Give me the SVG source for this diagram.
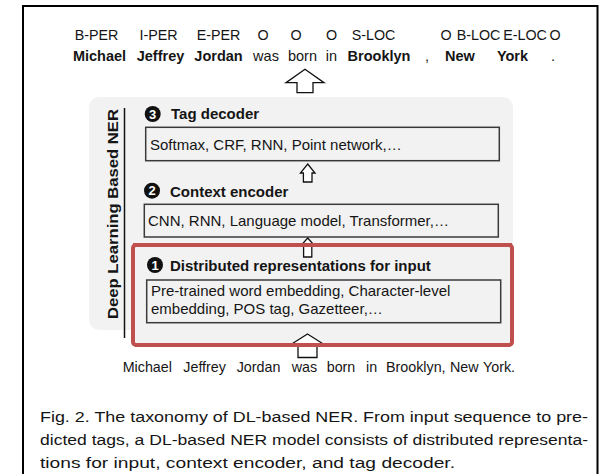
<svg xmlns="http://www.w3.org/2000/svg" width="605" height="474" viewBox="0 0 605 474">
  <style>
    text { font-family: "Liberation Sans", Arial, sans-serif; fill: #151515; }
    .tag { font-size: 14.3px; text-anchor: middle; }
    .word { font-size: 14.5px; text-anchor: middle; }
    .b { font-weight: bold; }
    .head { font-size: 15px; font-weight: bold; }
    .item { font-size: 15px; }
    .in { font-size: 14.3px; }
    .cap { font-size: 15.5px; }
    .box { fill: #f2f2f2; stroke: #3a3a3a; stroke-width: 1.5; }
    .num { fill: #111; }
    .numt { font-size: 13px; font-weight: bold; fill: #fff; text-anchor: middle; }
    .arrow { fill: #fff; stroke: #111; stroke-width: 1.3; stroke-linejoin: miter; }
  </style>

  <rect width="605" height="474" fill="#ffffff"/>
  <!-- figure frame -->
  <rect x="23" y="6" width="574.5" height="480" fill="none" stroke="#000" stroke-width="2"/>

  <!-- output tags and tagged words -->
  <g id="tags">
    <text class="tag" x="96.5" y="40">B-PER</text>
    <text class="tag" x="158.5" y="40">I-PER</text>
    <text class="tag" x="218.5" y="40">E-PER</text>
    <text class="tag" x="263" y="40">O</text>
    <text class="tag" x="296" y="40">O</text>
    <text class="tag" x="331.5" y="40">O</text>
    <text class="tag" x="373.5" y="40">S-LOC</text>
    <text class="tag" x="446" y="40">O</text>
    <text class="tag" x="478.5" y="40">B-LOC</text>
    <text class="tag" x="525" y="40">E-LOC</text>
    <text class="tag" x="555" y="40">O</text>
  </g>
  <g id="output-words">
    <text class="word b" x="99.5" y="61">Michael</text>
    <text class="word b" x="160.5" y="61">Jeffrey</text>
    <text class="word b" x="218.5" y="61">Jordan</text>
    <text class="word" x="266" y="61">was</text>
    <text class="word" x="302.5" y="61">born</text>
    <text class="word" x="331.5" y="61">in</text>
    <text class="word b" x="379" y="61">Brooklyn</text>
    <text class="word" x="427" y="61">,</text>
    <text class="word b" x="460" y="61">New</text>
    <text class="word b" x="512.5" y="61">York</text>
    <text class="word" x="553" y="61">.</text>
  </g>

  <!-- model panel -->
  <g id="panel">
    <rect x="89" y="97" width="424" height="233" rx="10" fill="#f2f2f2"/>
    <line x1="124.5" y1="108" x2="124.5" y2="338" stroke="#111" stroke-width="1.5"/>
    <text class="head" transform="translate(117.5 214) rotate(-90)" text-anchor="middle" font-size="16px" textLength="210" lengthAdjust="spacingAndGlyphs">Deep Learning Based NER</text>
  </g>

  <!-- stage 1: input representations (highlighted) -->
  <g id="input-representation">
    <rect x="133" y="245" width="379" height="100" rx="3" fill="#f2f2f2" stroke="#c0504d" stroke-width="4"/>
    <circle class="num" cx="155" cy="265" r="8"/>
    <text class="numt" x="155" y="269.6">1</text>
    <text class="head" x="170" y="271">Distributed representations for input</text>
    <rect class="box" x="146.7" y="280" width="354" height="42.7"/>
    <text class="item" x="151" y="295.5">Pre-trained word embedding, Character-level</text>
    <text class="item" x="151" y="314">embedding, POS tag, Gazetteer,…</text>
  </g>

  <!-- stage 2: context encoder -->
  <g id="context-encoder">
    <circle class="num" cx="152" cy="190.7" r="8"/>
    <text class="numt" x="152" y="195.3">2</text>
    <text class="head" x="170" y="197">Context encoder</text>
    <rect class="box" x="144.3" y="204.3" width="354" height="32.7"/>
    <text class="item" x="148" y="226">CNN, RNN, Language model, Transformer,…</text>
  </g>

  <!-- stage 3: tag decoder -->
  <g id="tag-decoder">
    <circle class="num" cx="152.7" cy="114" r="8"/>
    <text class="numt" x="152.7" y="118.6">3</text>
    <text class="head" x="171" y="119">Tag decoder</text>
    <rect class="box" x="145.7" y="127.3" width="353.6" height="33.4"/>
    <text class="item" x="150" y="149.5">Softmax, CRF, RNN, Point network,…</text>
  </g>

  <!-- input sentence -->
  <g id="input-sentence">
    <text class="in" x="122.7" y="371.5">Michael</text>
    <text class="in" x="183.3" y="371.5">Jeffrey</text>
    <text class="in" x="236.7" y="371.5">Jordan</text>
    <text class="in" x="291.7" y="371.5">was</text>
    <text class="in" x="326.7" y="371.5">born</text>
    <text class="in" x="366" y="371.5">in</text>
    <text class="in" x="386" y="371.5">Brooklyn,</text>
    <text class="in" x="450" y="371.5">New</text>
    <text class="in" x="483" y="371.5">York.</text>
  </g>

  <!-- block arrows between stages -->
  <g id="connectors">
    <polygon class="arrow" points="305,69.3 324,82.7 313,82.7 313,92.7 297,92.7 297,82.7 286,82.7"/>
    <polygon class="arrow" points="307.7,164 315,173 312,173 312,182 303.4,182 303.4,173 300.4,173"/>
    <polygon class="arrow" points="307.7,238 314,245 311.8,245 311.8,257 303.6,257 303.6,245 301.4,245"/>
    <polygon class="arrow" points="307.5,334 326.5,346 317,346 317,357.5 298,357.5 298,346 288.5,346"/>
    <!-- highlight border passes over the arrows -->
    <line x1="133" y1="245" x2="512" y2="245" stroke="#c0504d" stroke-width="4"/>
    <line x1="135" y1="345" x2="510" y2="345" stroke="#c0504d" stroke-width="4"/>
  </g>

  <!-- caption -->
  <g id="caption">
    <text class="cap" x="40" y="422" textLength="548" lengthAdjust="spacingAndGlyphs">Fig. 2. The taxonomy of DL-based NER. From input sequence to pre-</text>
    <text class="cap" x="40" y="445" textLength="548" lengthAdjust="spacingAndGlyphs">dicted tags, a DL-based NER model consists of distributed representa-</text>
    <text class="cap" x="40" y="468" textLength="415" lengthAdjust="spacingAndGlyphs">tions for input, context encoder, and tag decoder.</text>
  </g>
</svg>
